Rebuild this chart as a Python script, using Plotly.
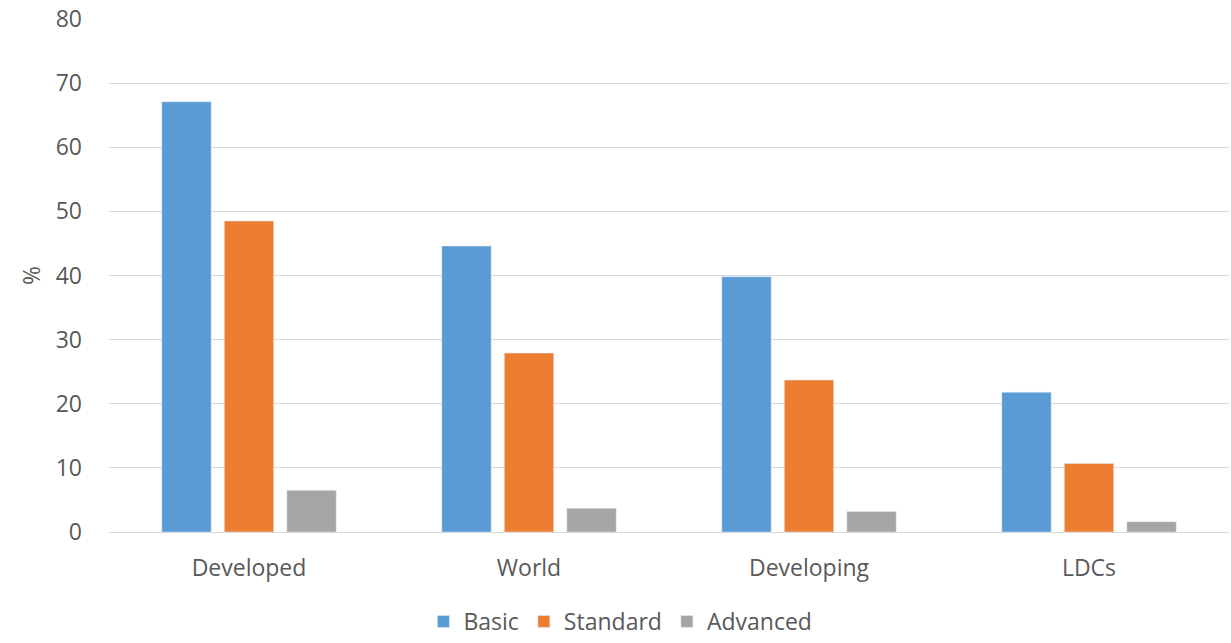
import plotly.graph_objects as go

categories = ["Developed", "World", "Developing", "LDCs"]
basic = [67.1, 44.6, 39.8, 21.8]
standard = [48.5, 27.9, 23.7, 10.7]
advanced = [6.5, 3.7, 3.2, 1.6]
y_ticks = [0, 10, 20, 30, 40, 50, 60, 70, 80]

FONT = "Open Sans"
GREY = "#595959"
FS = 23

fig = go.Figure()
fig.add_trace(go.Bar(name="Basic", x=categories, y=basic, marker_color="#5B9BD5"))
fig.add_trace(go.Bar(name="Standard", x=categories, y=standard, marker_color="#ED7D31"))
fig.add_trace(go.Bar(name="Advanced", x=categories, y=advanced, marker_color="#A5A5A5"))

fig.update_layout(
    width=1231, height=643,
    margin=dict(l=109, r=2, t=19, b=111, autoexpand=False),
    paper_bgcolor="white", plot_bgcolor="white",
    barmode="group", bargap=0.33, bargroupgap=0.21,
    font=dict(family=FONT, size=FS, color=GREY),
    showlegend=True,
    legend=dict(orientation="h", x=0.504, xanchor="center", xref="container",
                y=0.0, yanchor="bottom", yref="container",
                font=dict(family=FONT, size=FS, color=GREY), itemwidth=30,
                traceorder="normal", tracegroupgap=0),
)
fig.update_xaxes(showgrid=False, showline=False, ticks="", tickfont=dict(size=FS, color=GREY),
                 ticklabelstandoff=20, automargin=False)
fig.update_yaxes(range=[0, 80], tickvals=y_ticks, showgrid=True, gridcolor="#D9D9D9", gridwidth=1,
                 zeroline=True, zerolinecolor="#D9D9D9", zerolinewidth=1, showline=False,
                 ticks="", tickfont=dict(size=FS, color=GREY), ticklabelstandoff=26,
                 automargin=False,
                 title=dict(text="%", font=dict(size=FS, color=GREY), standoff=8))

fig.write_html("out.html")
